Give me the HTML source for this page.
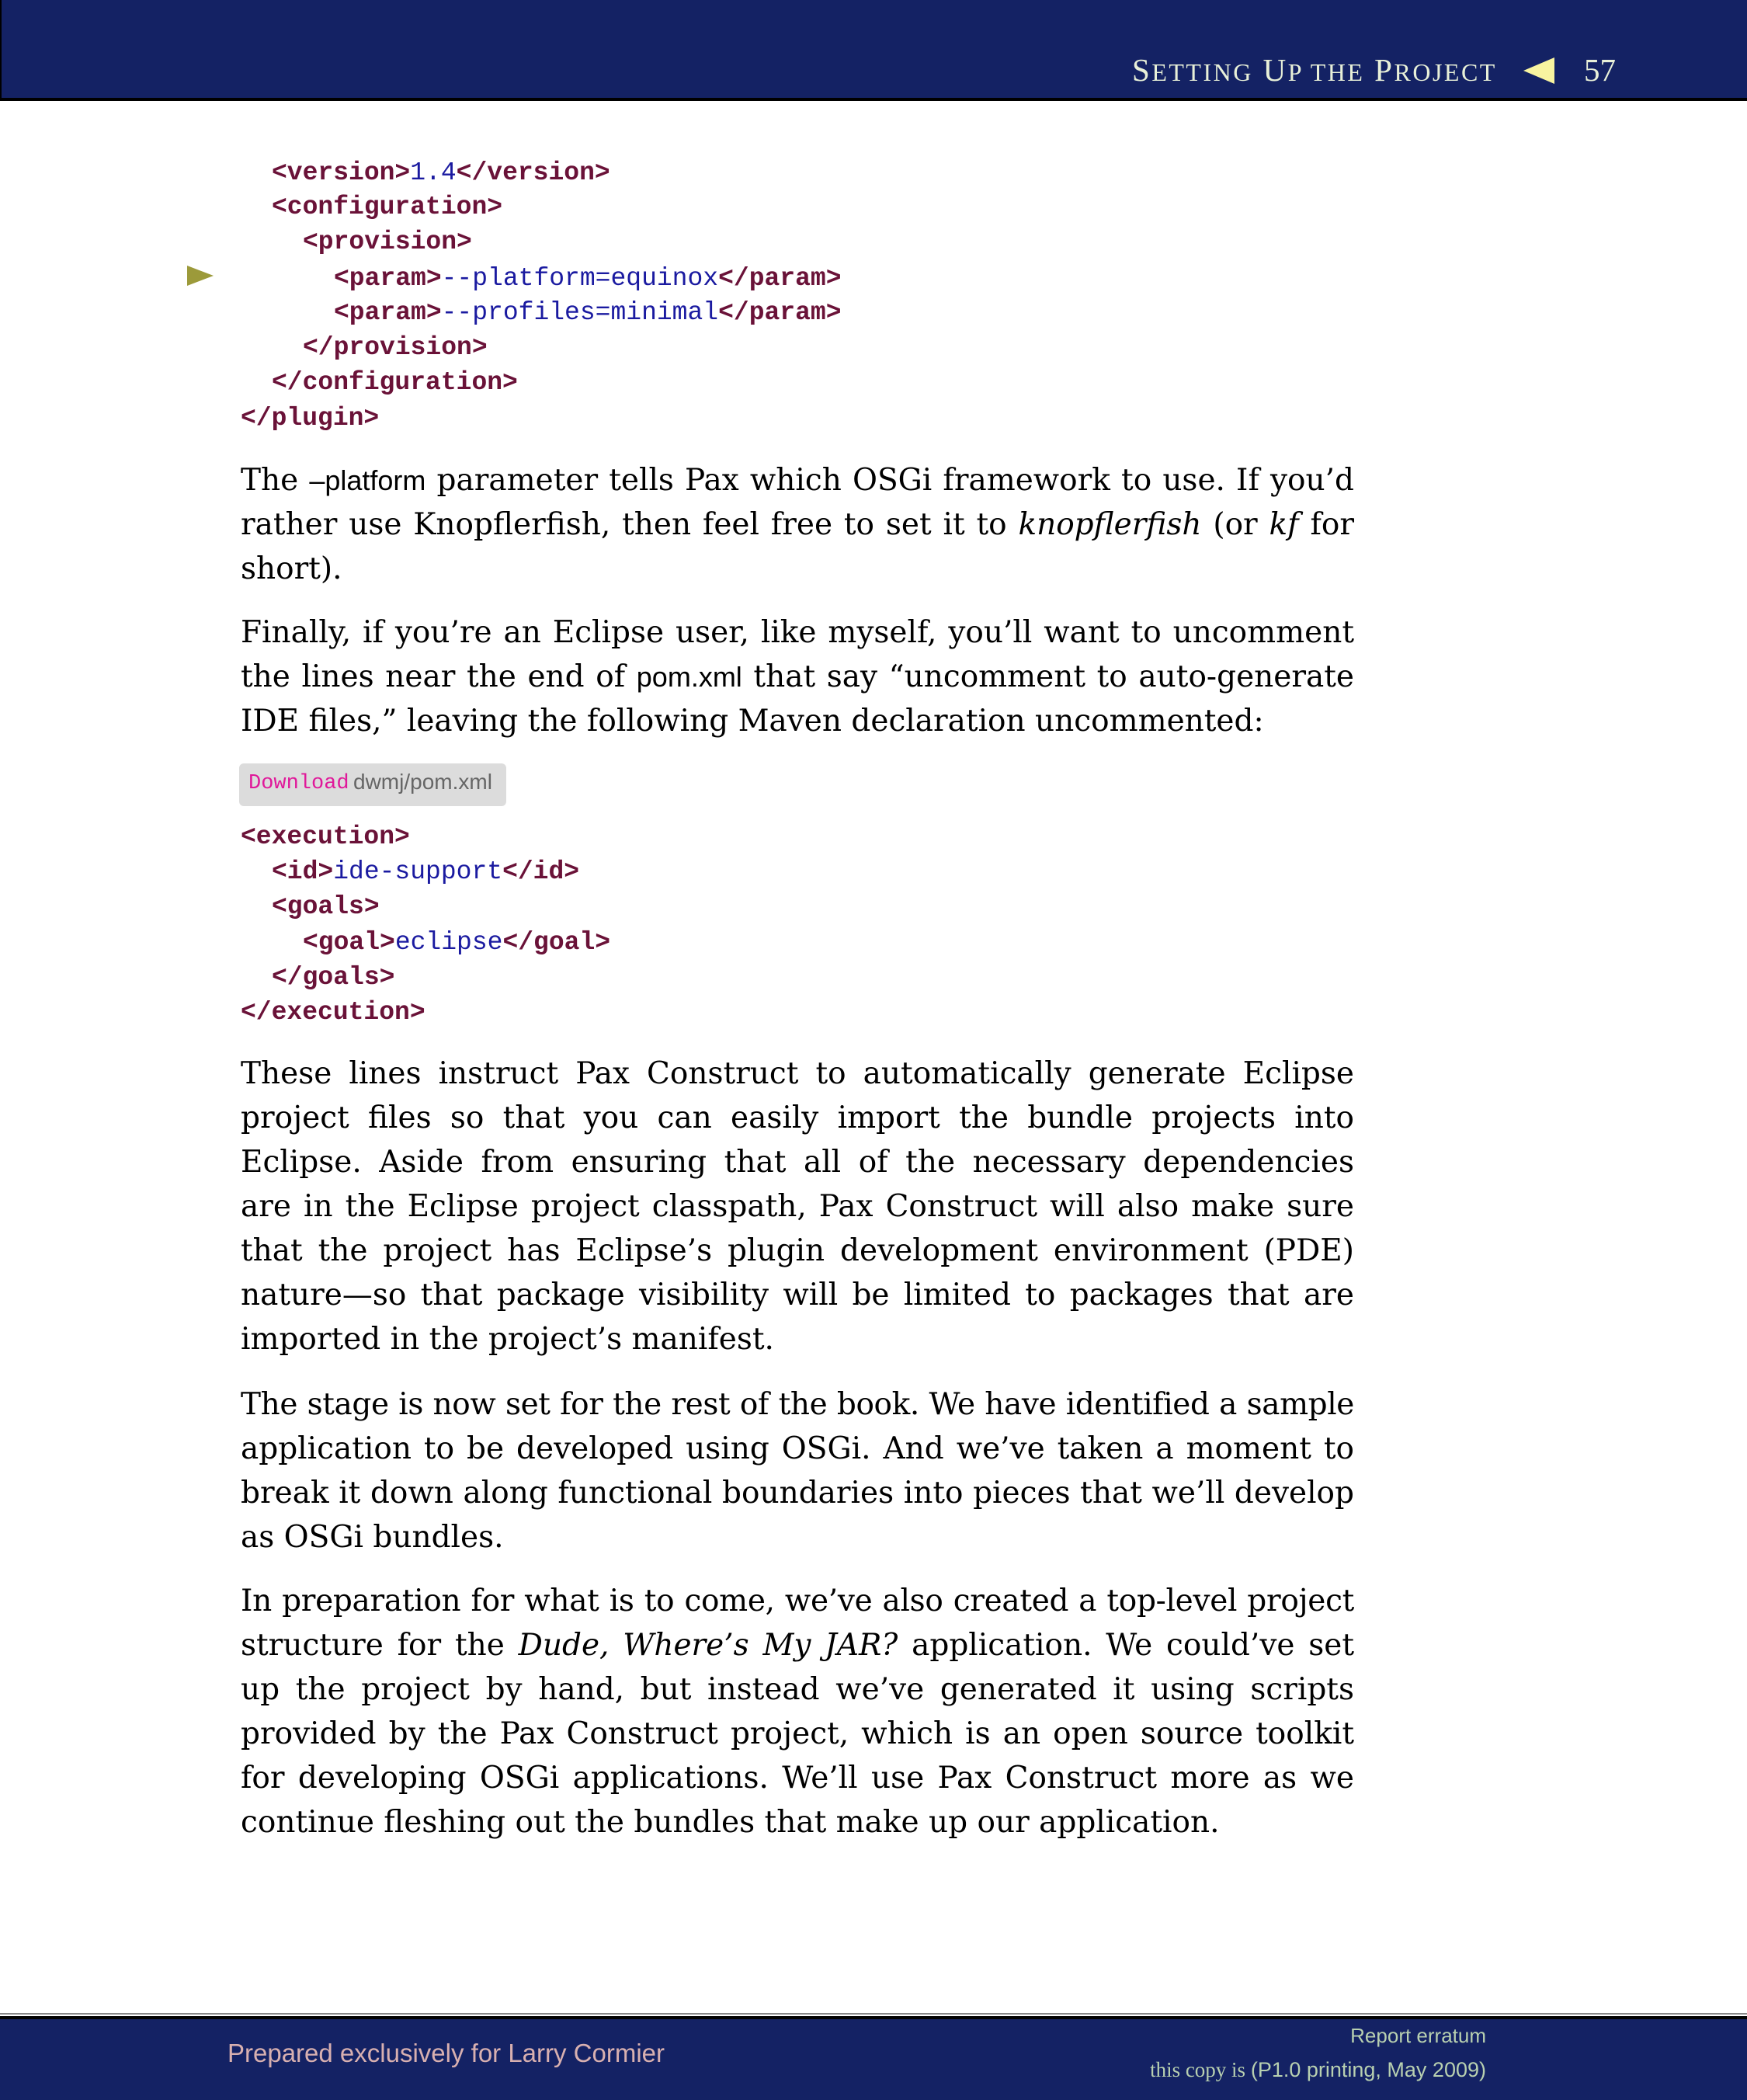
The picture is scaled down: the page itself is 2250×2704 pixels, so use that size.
<!DOCTYPE html>
<html><head><meta charset="utf-8">
<style>
html,body{margin:0;padding:0;}
body{width:2250px;height:2700px;position:relative;background:#fff;overflow:hidden;}
.hdr{position:absolute;left:0;top:0;width:2250px;height:126px;background:#142264;border-bottom:4px solid #000;border-left:2px solid #000;box-sizing:content-box;}
.ftr{position:absolute;left:0;top:2596px;width:2250px;height:104px;background:#142264;border-top:4px solid #000;}
.ftrline{position:absolute;left:0;top:2592px;width:2250px;height:2px;background:#888;}
.t{position:absolute;white-space:nowrap;}
.c{position:absolute;font-family:"Liberation Mono",monospace;font-size:33px;line-height:45px;white-space:pre;color:#1a1aa0;}
.c b{color:#6a1238;font-weight:bold;}
.p{position:absolute;left:310px;width:1434px;font-family:"DejaVu Serif",serif;font-size:39px;line-height:57px;color:#000;text-align:justify;text-align-last:justify;white-space:nowrap;}
.p.l{text-align-last:left;}
.sans{font-family:"Liberation Sans",sans-serif;font-size:36px;}
</style></head><body>
<div class="hdr"></div>
<div class="t" style="left:1458px;top:66px;font-family:'Liberation Serif',serif;font-size:41px;color:#e8f0d8;letter-spacing:2.5px;">S<span style="font-size:32px">ETTING</span> U<span style="font-size:32px">P THE</span> P<span style="font-size:32px">ROJECT</span></div>
<svg style="position:absolute;left:1962px;top:74px" width="42" height="34"><polygon points="0,17 40,0 40,34" fill="#f8f4a0"/></svg>
<div class="t" style="left:2040px;top:66px;font-family:'Liberation Serif',serif;font-size:41px;color:#e8f0d8;">57</div>

<svg style="position:absolute;left:241px;top:342px" width="36" height="28"><polygon points="0,0 34,13 0,26" fill="#9c9a3a"/></svg>

<div class="c" style="left:350px;top:200px"><b>&lt;version&gt;</b>1.4<b>&lt;/version&gt;</b></div>
<div class="c" style="left:350px;top:244px"><b>&lt;configuration&gt;</b></div>
<div class="c" style="left:390px;top:289px"><b>&lt;provision&gt;</b></div>
<div class="c" style="left:430px;top:336px"><b>&lt;param&gt;</b>--platform=equinox<b>&lt;/param&gt;</b></div>
<div class="c" style="left:430px;top:380px"><b>&lt;param&gt;</b>--profiles=minimal<b>&lt;/param&gt;</b></div>
<div class="c" style="left:390px;top:425px"><b>&lt;/provision&gt;</b></div>
<div class="c" style="left:350px;top:470px"><b>&lt;/configuration&gt;</b></div>
<div class="c" style="left:310px;top:516px"><b>&lt;/plugin&gt;</b></div>

<div class="p" style="top:590px">The <span class="sans">–platform</span> parameter tells Pax which OSGi framework to use. If you’d</div>
<div class="p" style="top:647px">rather use Knopflerfish, then feel free to set it to <i>knopflerfish</i> (or <i>kf</i> for</div>
<div class="p l" style="top:704px">short).</div>

<div class="p" style="top:786px">Finally, if you’re an Eclipse user, like myself, you’ll want to uncomment</div>
<div class="p" style="top:843px">the lines near the end of <span class="sans">pom.xml</span> that say “uncomment to auto-generate</div>
<div class="p l" style="top:900px">IDE files,” leaving the following Maven declaration uncommented:</div>

<div style="position:absolute;left:308px;top:983px;width:344px;height:55px;background:#dcdcdc;border-radius:6px;"></div>
<div class="t" style="left:320px;top:994px;font-family:'Liberation Mono',monospace;font-size:27px;color:#e0189a;">Download</div>
<div class="t" style="left:455px;top:991px;font-family:'Liberation Sans',sans-serif;font-size:28px;color:#666;">dwmj/pom.xml</div>

<div class="c" style="left:310px;top:1055px"><b>&lt;execution&gt;</b></div>
<div class="c" style="left:350px;top:1100px"><b>&lt;id&gt;</b>ide-support<b>&lt;/id&gt;</b></div>
<div class="c" style="left:350px;top:1145px"><b>&lt;goals&gt;</b></div>
<div class="c" style="left:390px;top:1191px"><b>&lt;goal&gt;</b>eclipse<b>&lt;/goal&gt;</b></div>
<div class="c" style="left:350px;top:1236px"><b>&lt;/goals&gt;</b></div>
<div class="c" style="left:310px;top:1281px"><b>&lt;/execution&gt;</b></div>

<div class="p" style="top:1354px">These lines instruct Pax Construct to automatically generate Eclipse</div>
<div class="p" style="top:1411px">project files so that you can easily import the bundle projects into</div>
<div class="p" style="top:1468px">Eclipse. Aside from ensuring that all of the necessary dependencies</div>
<div class="p" style="top:1525px">are in the Eclipse project classpath, Pax Construct will also make sure</div>
<div class="p" style="top:1582px">that the project has Eclipse’s plugin development environment (PDE)</div>
<div class="p" style="top:1639px">nature—so that package visibility will be limited to packages that are</div>
<div class="p l" style="top:1696px">imported in the project’s manifest.</div>

<div class="p" style="top:1780px;letter-spacing:-0.4px;word-spacing:-1px">The stage is now set for the rest of the book. We have identified a sample</div>
<div class="p" style="top:1837px">application to be developed using OSGi. And we’ve taken a moment to</div>
<div class="p" style="top:1894px">break it down along functional boundaries into pieces that we’ll develop</div>
<div class="p l" style="top:1951px">as OSGi bundles.</div>

<div class="p" style="top:2033px;letter-spacing:-0.3px;word-spacing:-1px">In preparation for what is to come, we’ve also created a top-level project</div>
<div class="p" style="top:2090px">structure for the <i>Dude, Where’s My JAR?</i> application. We could’ve set</div>
<div class="p" style="top:2147px">up the project by hand, but instead we’ve generated it using scripts</div>
<div class="p" style="top:2204px">provided by the Pax Construct project, which is an open source toolkit</div>
<div class="p" style="top:2261px">for developing OSGi applications. We’ll use Pax Construct more as we</div>
<div class="p l" style="top:2318px">continue fleshing out the bundles that make up our application.</div>

<div class="ftrline"></div>
<div class="ftr"></div>
<div class="t" style="left:293px;top:2625px;font-family:'Liberation Sans',sans-serif;font-size:33px;color:#d8b0b0;">Prepared exclusively for Larry Cormier</div>
<div class="t" style="right:336px;top:2606px;font-family:'Liberation Sans',sans-serif;font-size:26px;color:#b8d0b0;">Report erratum</div>
<div class="t" style="right:336px;top:2650px;font-family:'Liberation Serif',serif;font-size:27px;color:#b8d0b0;">this copy is <span style="font-family:'Liberation Sans',sans-serif">(P1.0 printing, May 2009)</span></div>
</body></html>
